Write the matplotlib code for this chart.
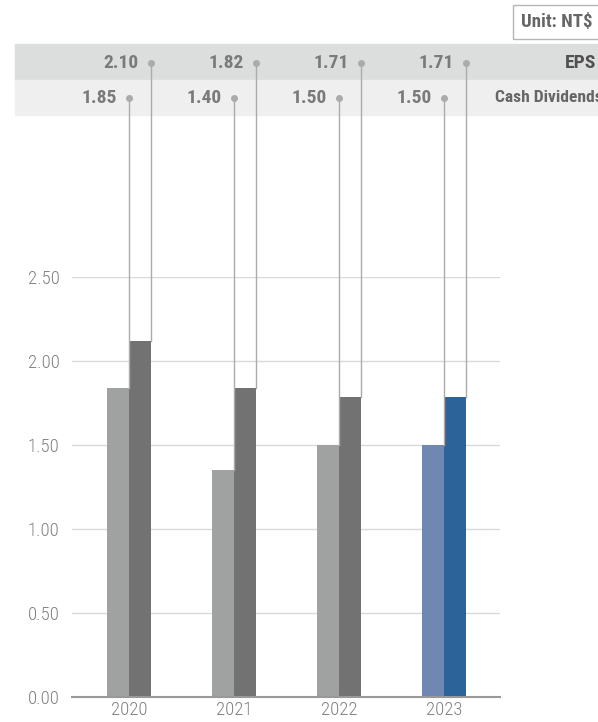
import matplotlib
matplotlib.use("Agg")
import matplotlib.pyplot as plt
import numpy as np
from matplotlib import font_manager
from matplotlib.patches import Rectangle

# data
years = ["2020", "2021", "2022", "2023"]
cash_div = [1.84, 1.35, 1.50, 1.50]   # bar heights
eps = [2.12, 1.84, 1.785, 1.785]
cash_labels = ["1.85", "1.40", "1.50", "1.50"]
eps_labels = ["2.10", "1.82", "1.71", "1.71"]
yticks = [0.0, 0.5, 1.0, 1.5, 2.0, 2.5]

# pick a narrow font if one is around
stretch = "normal"
family = "DejaVu Sans"
names = {f.name for f in font_manager.fontManager.ttflist}
for cand in ["Roboto Condensed", "Liberation Sans Narrow", "Open Sans Condensed"]:
    if cand in names:
        family = cand
        break
else:
    for f in font_manager.fontManager.ttflist:
        if "condensed" in f.fname.lower() or "narrow" in f.fname.lower():
            family = f.name
            stretch = "condensed"
            break
plt.rcParams["font.family"] = [family, "DejaVu Sans"]
plt.rcParams["font.stretch"] = stretch

W, H = 598, 722
fig = plt.figure(figsize=(W / 100, H / 100), dpi=100)

def fy(py):
    # pixel-from-top to figure fraction
    return 1 - py / H

# header bands
fig.patches.append(Rectangle((15 / W, fy(80)), 1, 36 / H, transform=fig.transFigure,
                             color="#dcdddd", zorder=0))
fig.patches.append(Rectangle((15 / W, fy(115)), 1, 35 / H, transform=fig.transFigure,
                             color="#efefef", zorder=0))

ax = fig.add_axes([72 / W, fy(697), (500 - 72) / W, (697 - 277) / H])
ax.set_zorder(2)
ax.patch.set_alpha(0)

x = np.arange(len(years))
w = 0.21
cash_col = ["#a0a2a1"] * 3 + ["#6e88b2"]
eps_col = ["#727272"] * 3 + ["#2c6399"]
ax.bar(x, cash_div, width=-w, align="edge", color=cash_col, zorder=2)
ax.bar(x, eps, width=w, align="edge", color=eps_col, zorder=2)

ax.set_xlim(-0.543, 3.533)
ax.set_ylim(0, 2.5)
ax.set_yticks(yticks)
ax.set_yticklabels([f"{v:.2f}" for v in yticks], fontweight="light")
ax.set_xticks(x)
ax.set_xticklabels(years, fontweight="light")
ax.tick_params(length=0, labelsize=13.5, colors="#808080")
ax.tick_params(axis="y", pad=9)
ax.tick_params(axis="x", pad=3)
ax.yaxis.grid(True, color="#d9d9d9", lw=1, zorder=0)
ax.set_axisbelow(True)
for s in ["top", "right", "left"]:
    ax.spines[s].set_visible(False)
ax.spines["bottom"].set_color("#999999")
ax.spines["bottom"].set_linewidth(1.5)
ax.spines["bottom"].set_zorder(3)

# leader lines from bars up to the header rows
inv = ax.transData.inverted()
y_eps = inv.transform(fig.transFigure.transform((0, fy(63))))[1]
y_cash = inv.transform(fig.transFigure.transform((0, fy(98))))[1]
for i in range(len(years)):
    ax.plot([x[i], x[i]], [cash_div[i], y_cash], color="#ababab", lw=1, clip_on=False, zorder=3)
    ax.plot([x[i] + w, x[i] + w], [eps[i], y_eps], color="#ababab", lw=1, clip_on=False, zorder=3)
    ax.plot(x[i], y_cash, "o", color="#ababab", ms=4, clip_on=False, zorder=4)
    ax.plot(x[i] + w, y_eps, "o", color="#ababab", ms=4, clip_on=False, zorder=4)
    ax.annotate(cash_labels[i], (x[i], y_cash), xytext=(-9, 0), textcoords="offset points",
                ha="right", va="center", fontsize=14, fontweight="bold", color="#7a7a7a",
                annotation_clip=False)
    ax.annotate(eps_labels[i], (x[i] + w, y_eps), xytext=(-9, 0), textcoords="offset points",
                ha="right", va="center", fontsize=14, fontweight="bold", color="#7a7a7a",
                annotation_clip=False)

fig.text(565 / W, fy(63), "EPS", ha="left", va="center", fontsize=14,
         fontweight="bold", color="#505050")
fig.text(495 / W, fy(98), "Cash Dividends", ha="left", va="center", fontsize=12.6,
         fontweight="bold", color="#666666")
fig.text(521 / W, fy(22), "Unit: NT$", ha="left", va="center", fontsize=13.5,
         fontweight="bold", color="#666666",
         bbox=dict(boxstyle="square,pad=0.45", fc="white", ec="#b5b5b5", lw=1))

fig.savefig("out.png", dpi=100)
